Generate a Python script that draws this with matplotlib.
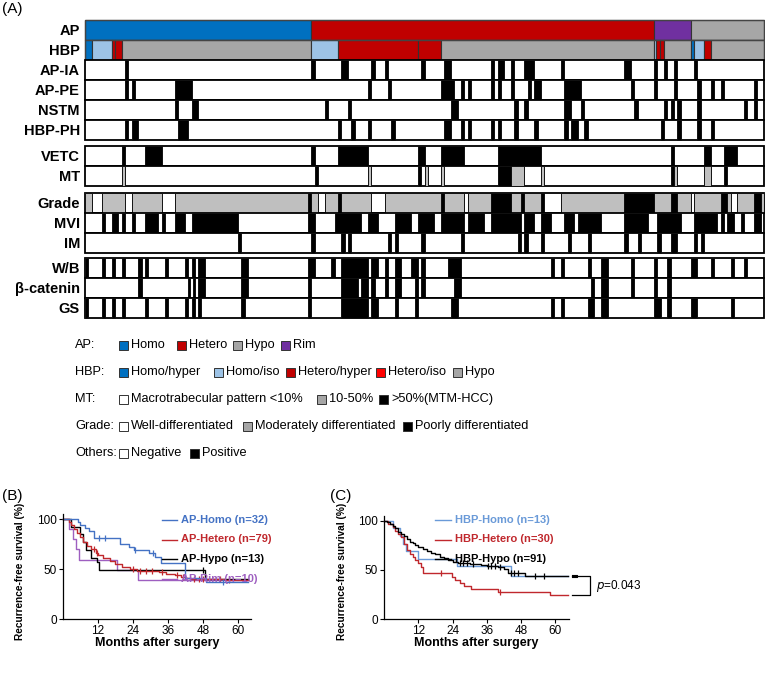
import numpy as np
import matplotlib
matplotlib.use("Agg")
import matplotlib.pyplot as plt

plt.rcParams['font.family'] = ['Liberation Sans', 'DejaVu Sans']

# ---------------- heatmap data (column index runs, end exclusive) ----------------
N_COLS = 204

ap_runs = [(0, 68, 'Homo'), (68, 171, 'Hetero'), (171, 182, 'Rim'), (182, 204, 'Hypo')]
hbp_runs = [(0, 2, 'Homo/hyper'), (2, 8, 'Homo/iso'), (8, 9, 'Hetero/hyper'), (9, 11, 'Hetero/hyper'),
            (11, 68, 'Hypo'), (68, 76, 'Homo/iso'), (76, 100, 'Hetero/hyper'), (100, 107, 'Hetero/hyper'),
            (107, 171, 'Hypo'), (171, 171.5, 'Homo/iso'), (171.5, 172.7, 'Hetero/hyper'),
            (172.7, 174, 'Hetero/hyper'), (174, 182, 'Hypo'), (182, 183, 'Homo/hyper'),
            (183, 186, 'Homo/iso'), (186, 188, 'Hetero/hyper'), (188, 204, 'Hypo')]

ap_ia = [(12, 13), (68, 69), (77, 79), (86, 87), (90, 91), (101, 102), (108, 110), (122, 123), (124, 126),
         (128, 129), (132, 135), (143, 144), (162, 164), (171, 172), (174, 175), (177, 178), (183, 184)]
ap_pe = [(12, 13), (14, 15), (27, 32), (85, 86), (91, 92), (107, 111), (113, 114), (115, 116), (122, 123),
         (124, 125), (128, 129), (133, 134), (135, 137), (144, 149), (164, 165), (171, 172), (177, 178),
         (184, 185), (188, 189), (191, 192), (201, 202)]
nstm = [(27, 28), (32, 34), (72, 73), (79, 80), (110, 112), (129, 130), (132, 133), (144, 146), (149, 150),
        (165, 166), (174, 175), (176, 177), (178, 179), (184, 185), (198, 199), (201, 202)]
hbp_ph = [(12, 13), (14, 16), (28, 31), (76, 77), (80, 81), (85, 86), (92, 93), (108, 110), (113, 114),
          (115, 116), (122, 123), (124, 125), (129, 130), (135, 136), (144, 145), (146, 148), (150, 151),
          (173, 174), (178, 179), (184, 185), (188, 189)]
vetc = [(11, 12), (18, 23), (68, 69), (76, 85), (100, 102), (107, 114), (124, 137), (176, 177), (186, 188),
        (192, 196)]
mt_mid = [(11, 12), (85, 86), (102, 103), (107, 108), (128, 132), (137, 138), (177, 178), (186, 188)]
mt_high = [(69, 70), (100, 101), (124, 128), (176, 177), (192, 193)]
grade_mod = [(0, 2), (5, 12), (14, 23), (27, 67), (68, 70), (72, 76), (77, 86), (90, 107), (108, 114),
             (115, 122), (128, 131), (132, 137), (143, 162), (171, 176), (178, 182), (183, 191), (193, 194),
             (196, 201), (203, 204)]
grade_poor = [(67, 68), (76, 77), (107, 108), (122, 128), (131, 132), (137, 138), (162, 171), (176, 178),
              (191, 193), (201, 203)]
mvi = [(5, 6), (8, 10), (11, 12), (14, 15), (18, 22), (23, 24), (27, 30), (32, 46), (67, 69), (75, 83),
       (85, 88), (93, 98), (100, 105), (107, 114), (115, 120), (122, 131), (132, 135), (137, 140), (144, 147),
       (148, 155), (162, 169), (172, 179), (183, 190), (191, 192), (193, 195), (197, 198), (201, 203)]
im = [(46, 47), (68, 69), (77, 78), (79, 80), (91, 92), (93, 94), (101, 102), (113, 114), (130, 131),
      (132, 133), (137, 138), (145, 146), (151, 152), (162, 163), (166, 167), (172, 173), (176, 178),
      (183, 184), (185, 186)]
wb = [(0, 1), (5, 6), (8, 9), (11, 12), (16, 17), (18, 19), (24, 25), (30, 31), (32, 33), (34, 36), (47, 49),
      (67, 69), (74, 75), (77, 85), (86, 88), (90, 91), (93, 95), (98, 100), (101, 102), (109, 113),
      (140, 141), (143, 144), (151, 152), (155, 157), (164, 165), (171, 172), (175, 176), (182, 184),
      (188, 189), (194, 195), (198, 199)]
bcat = [(16, 17), (31, 31.5), (32.5, 33), (34, 36), (47, 49), (67, 68), (77, 82), (83, 85), (86, 87),
        (90, 91), (93, 95), (99, 100), (101, 102), (111, 113), (152, 153), (155, 157), (164, 165),
        (171, 172), (175, 176)]
gs = [(0, 1), (5, 6), (8, 9), (11, 12), (18, 19), (24, 25), (30, 31), (32, 33), (34, 35), (47, 48), (67, 68),
      (77, 85), (86, 88), (93, 94), (99, 100), (110, 112), (140, 141), (143, 144), (151, 153), (155, 157),
      (171, 173), (175, 176), (182, 184), (194, 195)]

AP_COL = {'Homo': '#0070C0', 'Hetero': '#C00000', 'Hypo': '#A6A6A6', 'Rim': '#7030A0'}
HBP_COL = {'Homo/hyper': '#0070C0', 'Homo/iso': '#9DC3E6', 'Hetero/hyper': '#C00000',
           'Hetero/iso': '#FF0000', 'Hypo': '#A6A6A6'}
LIGHT = '#BFBFBF'

# ---------------- survival data (months, %) ----------------
b_homo_t = [0, 5.0, 6.0, 7.5, 9.0, 10.5, 19.5, 22.5, 24.5, 29.5, 31.5, 33.5, 42.0, 49.0]
b_homo_s = [100, 97, 94, 91, 88, 81, 75, 72, 69, 66, 62, 56, 41, 37]
b_homo_c = [12.5, 14.5, 24.8, 31.0, 55.0]
b_het_t = [0, 2, 2.7, 3.7, 4.8, 5.8, 7, 8.4, 9.5, 11.2, 12, 13.7, 16.2, 17.9, 20.4, 22.9, 25.4, 32.9,
           35.4, 38.4, 40.4, 42.1, 43.8, 55.5]
b_het_s = [100, 97, 94, 90, 86, 82, 77, 73, 70, 66, 64, 61, 58, 55, 52, 50, 48, 47, 45, 44, 42, 41, 40, 39]
b_het_c = [10.5, 11.5, 24.0, 26.5, 28.5, 30.5, 34.0, 39.0, 41.0, 45.0, 46.5, 48.0, 54.0, 57.0]
b_hypo_t = [0, 2.8, 6.0, 7.0, 8.0, 9.5, 11.5, 12.2, 48.8]
b_hypo_s = [100, 92.3, 84.6, 76.9, 69.2, 61.5, 57, 49, 40]
b_hypo_c = [48.0]
b_rim_t = [0, 2.2, 3.5, 4.5, 5.5, 18.5, 25.7]
b_rim_s = [100, 90, 80, 70, 59, 49, 39]
b_rim_c = []
B_END = 63.5

c_homo_t = [0, 3.0, 5.5, 6.8, 7.8, 12.0, 25.4, 44.4]
c_homo_s = [100, 92.3, 84.6, 76.9, 69.2, 61.5, 53.8, 43.5]
c_homo_c = []
c_het_t = [0, 1.5, 3, 4, 5, 6, 7, 8, 9, 10, 11, 12, 12.8, 13.6, 23.7, 25, 26.6, 28, 30.5, 40, 58]
c_het_s = [100, 96.7, 93.3, 90, 86.7, 83.3, 76.7, 70, 66.7, 63.3, 60, 56.7, 53.3, 47, 43, 40, 36.7, 33.3,
           31, 28, 24]
c_het_c = [20.0, 40.5]
c_hypo_t = [0, 1, 2, 3, 4, 5, 6, 7, 8, 9, 10, 11, 12, 13.5, 15, 16.5, 18, 19.5, 21, 22.5, 24, 26, 30, 34,
            36, 40, 42, 43.5, 49.5]
c_hypo_s = [100, 98.9, 96.7, 94.5, 92.3, 89, 86.8, 84.6, 81.3, 79, 77, 75, 73.6, 71.4, 69.2, 67, 65.9, 63.7,
            62.6, 60.4, 58.2, 57.1, 56, 54.9, 53.8, 52.7, 50.5, 47.3, 44]
c_hypo_c = [26.5, 27.5, 29, 31, 36.5, 37.5, 39, 40.5, 44.5, 45.5, 47, 53, 56]
C_END = 64.5

# ---------------- figure ----------------
W, H = 765, 700
fig = plt.figure(figsize=(W / 100, H / 100), dpi=100)


def px_axes(x0, y0, x1, y1):
    return fig.add_axes([x0 / W, 1 - y1 / H, (x1 - x0) / W, (y1 - y0) / H])


hm = px_axes(85, 20, 764, 318)
hm.set_xlim(0, N_COLS)
hm.set_ylim(318, 20)
hm.axis('off')

RH = 20
row_top = {'AP': 20, 'HBP': 40, 'AP-IA': 60, 'AP-PE': 80, 'NSTM': 100, 'HBP-PH': 120,
           'VETC': 146, 'MT': 166, 'Grade': 193, 'MVI': 213, 'IM': 233,
           'W/B': 258, 'β-catenin': 278, 'GS': 298}


def cat_row(name, runs, cmap):
    y = row_top[name]
    hm.broken_barh([(s, e - s) for s, e, v in runs], (y, RH),
                   facecolors=[cmap[v] for s, e, v in runs], edgecolors='#333333', linewidths=0.8,
                   clip_on=False)
    hm.add_patch(plt.Rectangle((0, y), N_COLS, RH, fill=False, ec='#444444', lw=1.0, clip_on=False))


def bin_row(name, layers):
    y = row_top[name]
    hm.add_patch(plt.Rectangle((0, y), N_COLS, RH, fc='white', ec='black', lw=1.3, clip_on=False))
    for runs, col in layers:
        hm.broken_barh([(s, e - s) for s, e in runs], (y, RH), facecolors=col,
                       edgecolors='#111111', linewidths=0.7, clip_on=False)


cat_row('AP', ap_runs, AP_COL)
cat_row('HBP', hbp_runs, HBP_COL)
bin_row('AP-IA', [(ap_ia, 'black')])
bin_row('AP-PE', [(ap_pe, 'black')])
bin_row('NSTM', [(nstm, 'black')])
bin_row('HBP-PH', [(hbp_ph, 'black')])
bin_row('VETC', [(vetc, 'black')])
bin_row('MT', [(mt_mid, LIGHT), (mt_high, 'black')])
bin_row('Grade', [(grade_mod, LIGHT), (grade_poor, 'black')])
bin_row('MVI', [(mvi, 'black')])
bin_row('IM', [(im, 'black')])
bin_row('W/B', [(wb, 'black')])
bin_row('β-catenin', [(bcat, 'black')])
bin_row('GS', [(gs, 'black')])


# ---------------- Kaplan-Meier panels ----------------
def km(ax, t, s, cens, end, col):
    tt = list(t) + [end]
    ss = list(s) + [s[-1]]
    ax.step(tt, ss, where='post', color=col, lw=1.0, clip_on=False)
    if cens:
        idx = np.searchsorted(t, cens, side='right') - 1
        ax.plot(cens, np.array(s)[idx], '|', color=col, ms=4, mew=0.9, clip_on=False)


def style(ax, xmax):
    ax.set_xlim(0, xmax)
    ax.set_ylim(0, 105)
    ax.set_xticks([12, 24, 36, 48, 60])
    ax.set_yticks([0, 50, 100])
    ax.patch.set_visible(False)
    for sp in ('top', 'right'):
        ax.spines[sp].set_visible(False)
    for sp in ('left', 'bottom'):
        ax.spines[sp].set_linewidth(0.9)
    ax.tick_params(labelsize=8.5, length=3, width=0.8, pad=1.5)


BLUE, RED, PURPLE, LBLUE = '#4472C4', '#C0282D', '#9E5FC0', '#6A9AD8'

axb = px_axes(63, 514, 251, 619)
style(axb, 64.5)
km(axb, b_rim_t, b_rim_s, b_rim_c, B_END, PURPLE)
km(axb, b_hypo_t, b_hypo_s, b_hypo_c, B_END, 'black')
km(axb, b_het_t, b_het_s, b_het_c, B_END, RED)
km(axb, b_homo_t, b_homo_s, b_homo_c, B_END, BLUE)

axc = px_axes(384, 516, 569, 619)
style(axc, 64.8)
km(axc, c_homo_t, c_homo_s, c_homo_c, C_END, LBLUE)
km(axc, c_het_t, c_het_s, c_het_c, C_END, RED)
km(axc, c_hypo_t, c_hypo_s, c_hypo_c, C_END, 'black')

# p-value bracket between HBP-Hypo and HBP-Hetero
axc.plot([66.0, 67.6, 67.6, 66.0], [45, 45, 43, 43], color='black', lw=0.8, clip_on=False)
axc.plot([66.0, 72.2, 72.2, 66.0], [44, 44, 24, 24], color='black', lw=0.9, clip_on=False)
axc.text(74.2, 34, '$p$=0.043', fontsize=8.5, va='center')

# ---------------- overlay for labels and legends (pixel coordinates) ----------------
ov = px_axes(0, 0, W, H)
ov.set_xlim(0, W)
ov.set_ylim(H, 0)
ov.axis('off')
ov.set_zorder(10)

for name, y in row_top.items():
    ov.text(80, y + RH / 2 + 1, name, ha='right', va='center', fontsize=10.5, fontweight='bold')

ov.text(2, 9, '(A)', fontsize=11, va='center')
ov.text(2, 496, '(B)', fontsize=11, va='center')
ov.text(330, 496, '(C)', fontsize=11, va='center')

LFS = 9.2
SQ = 9


def leg_item(x, y, col, label):
    ov.add_patch(plt.Rectangle((x, y - SQ / 2), SQ, SQ, fc=col, ec='#333333', lw=0.7))
    ov.text(x + SQ + 3, y, label, fontsize=LFS, va='center')


ov.text(75, 345, 'AP:', fontsize=LFS, va='center')
leg_item(119, 345, AP_COL['Homo'], 'Homo')
leg_item(177, 345, AP_COL['Hetero'], 'Hetero')
leg_item(233, 345, AP_COL['Hypo'], 'Hypo')
leg_item(281, 345, AP_COL['Rim'], 'Rim')

ov.text(75, 372, 'HBP:', fontsize=LFS, va='center')
leg_item(119, 372, HBP_COL['Homo/hyper'], 'Homo/hyper')
leg_item(214, 372, HBP_COL['Homo/iso'], 'Homo/iso')
leg_item(286, 372, HBP_COL['Hetero/hyper'], 'Hetero/hyper')
leg_item(376, 372, HBP_COL['Hetero/iso'], 'Hetero/iso')
leg_item(453, 372, HBP_COL['Hypo'], 'Hypo')

ov.text(75, 399, 'MT:', fontsize=LFS, va='center')
leg_item(119, 399, 'white', 'Macrotrabecular pattern <10%')
leg_item(317, 399, '#A6A6A6', '10-50%')
leg_item(379, 399, 'black', '>50%(MTM-HCC)')

ov.text(75, 426, 'Grade:', fontsize=LFS, va='center')
leg_item(119, 426, 'white', 'Well-differentiated')
leg_item(243, 426, '#A6A6A6', 'Moderately differentiated')
leg_item(403, 426, 'black', 'Poorly differentiated')

ov.text(75, 453, 'Others:', fontsize=LFS, va='center')
leg_item(119, 453, 'white', 'Negative')
leg_item(190, 453, 'black', 'Positive')

for x in (20, 342):
    ov.text(x, 571, 'Recurrence-free survival (%)', rotation=90, ha='center', va='center',
            fontsize=7.3, fontweight='bold')
ov.text(157, 643, 'Months after surgery', ha='center', va='center', fontsize=9, fontweight='bold')
ov.text(476, 643, 'Months after surgery', ha='center', va='center', fontsize=9, fontweight='bold')

for i, (lab, col) in enumerate([('AP-Homo (n=32)', BLUE), ('AP-Hetero (n=79)', RED),
                                 ('AP-Hypo (n=13)', 'black'), ('AP-Rim (n=10)', PURPLE)]):
    y = 520 + i * 19.5
    ov.plot([162, 177], [y, y], color=col, lw=1.0)
    ov.text(181, y, lab, color=col, fontsize=8, fontweight='bold', va='center')

for i, (lab, col) in enumerate([('HBP-Homo (n=13)', LBLUE), ('HBP-Hetero (n=30)', RED),
                                 ('HBP-Hypo (n=91)', 'black')]):
    y = 520 + i * 19.5
    ov.plot([435, 451], [y, y], color=col, lw=1.0)
    ov.text(455, y, lab, color=col, fontsize=8, fontweight='bold', va='center')

fig.savefig('out.png', dpi=100)
